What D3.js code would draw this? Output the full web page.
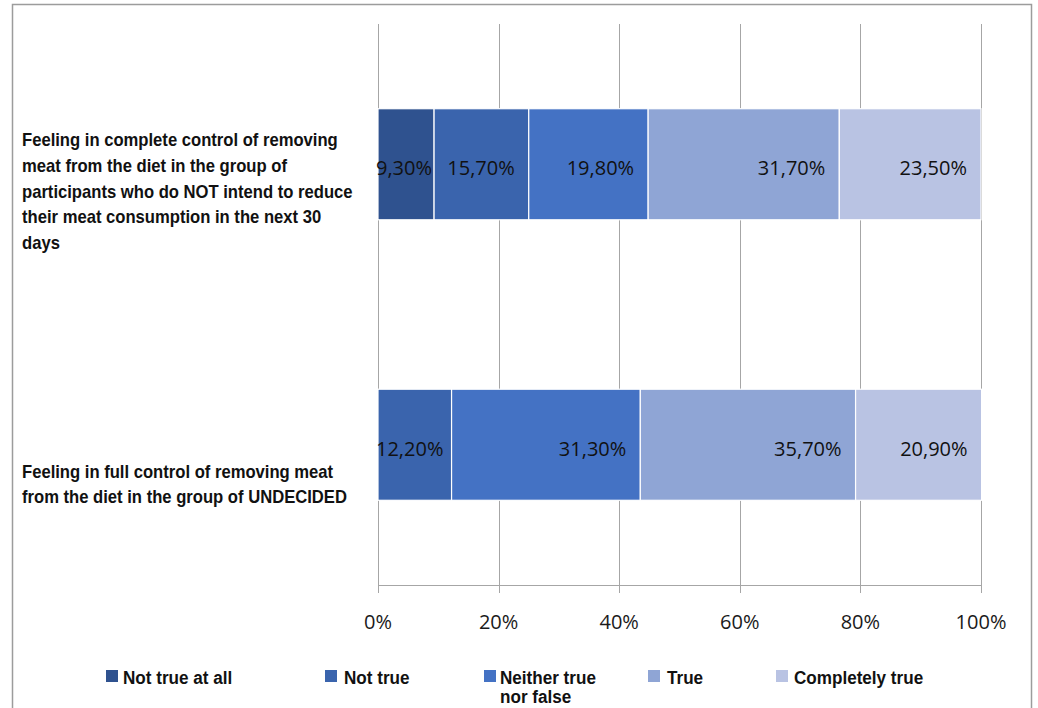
<!DOCTYPE html>
<html>
<head>
<meta charset="utf-8">
<script src="https://cdn.jsdelivr.net/npm/d3@7"></script>
<style>
  html, body { margin: 0; padding: 0; background: #fff; }
  svg { display: block; }
</style>
</head>
<body>
<svg id="chart" width="1038" height="708"></svg>
<script>
// ---- data ----
const categories = [
  "Feeling in complete control of removing meat from the diet in the group of participants who do NOT intend to reduce their meat consumption in the next 30 days",
  "Feeling in full control of removing meat from the diet in the group of UNDECIDED"
];
const categoryLines = [
  ["Feeling in complete control of removing",
   "meat from the diet in the group of",
   "participants who do NOT intend to reduce",
   "their meat consumption in the next 30",
   "days"],
  ["Feeling in full control of removing meat",
   "from the diet in the group of UNDECIDED"]
];
const seriesNames = ["Not true at all", "Not true", "Neither true nor false", "True", "Completely true"];
const notTrueAtAll = [9.3, 0];
const notTrue = [15.7, 12.2];
const neitherTrueNorFalse = [19.8, 31.3];
const trueValues = [31.7, 35.7];
const completelyTrue = [23.5, 20.9];
const tickValues = [0, 20, 40, 60, 80, 100];

const seriesColors = ["#2f528f", "#3a64ad", "#4472c4", "#8fa5d5", "#b9c3e3"];

// ---- table for the stack layout ----
const seriesArrays = [notTrueAtAll, notTrue, neitherTrueNorFalse, trueValues, completelyTrue];
const rows = categories.map((c, i) => {
  const r = { category: c };
  seriesNames.forEach((s, j) => { r[s] = seriesArrays[j][i]; });
  return r;
});

// ---- layout ----
const svg = d3.select("#chart");
const plot = { left: 378, right: 981, top: 24, bottom: 585 };

const x = d3.scaleLinear().domain([0, 100]).range([plot.left, plot.right]);
const y = d3.scaleBand().domain(categories).range([plot.top, plot.bottom])
  .paddingInner(0.604).paddingOuter(0.302);
const color = d3.scaleOrdinal().domain(seriesNames).range(seriesColors);

// outer frame
svg.append("rect")
  .attr("x", 12.5).attr("y", 4.5).attr("width", 1019).attr("height", 720)
  .attr("fill", "none").attr("stroke", "#9c9c9c").attr("stroke-width", 1.5);

// vertical gridlines (extend below the axis as tick marks)
svg.append("g")
  .selectAll("line").data(tickValues).join("line")
  .attr("x1", d => Math.round(x(d)) + 0.5).attr("x2", d => Math.round(x(d)) + 0.5)
  .attr("y1", plot.top).attr("y2", plot.bottom + 8)
  .attr("stroke", "#a6a6a6").attr("stroke-width", 1);

// horizontal axis line
svg.append("line")
  .attr("x1", plot.left).attr("x2", plot.right)
  .attr("y1", plot.bottom + 0.5).attr("y2", plot.bottom + 0.5)
  .attr("stroke", "#a6a6a6").attr("stroke-width", 1);

// tick labels
svg.append("g")
  .selectAll("text").data(tickValues).join("text")
  .attr("x", d => x(d)).attr("y", 629)
  .attr("text-anchor", "middle")
  .attr("font-family", "'Open Sans', 'Liberation Sans', sans-serif")
  .attr("font-size", 20)
  .attr("fill", "#1a1a1a")
  .text(d => d + "%");

// stacked bars
const stacked = d3.stack().keys(seriesNames)(rows);

const layers = svg.append("g").selectAll("g").data(stacked).join("g")
  .attr("fill", d => color(d.key));

layers.selectAll("rect").data(d => d.filter(p => p[1] - p[0] > 0)).join("rect")
  .attr("x", d => x(d[0]))
  .attr("y", d => y(d.data.category))
  .attr("width", d => x(d[1]) - x(d[0]))
  .attr("height", y.bandwidth())
  .attr("stroke", "#ffffff").attr("stroke-width", 1.2);

// value labels, placed toward the inside end of each segment
const labelFont = "'Open Sans', 'Liberation Sans', sans-serif";
const labels = svg.append("g");
stacked.forEach(layer => {
  layer.forEach(p => {
    const v = p[1] - p[0];
    if (v <= 0) return;
    const t = labels.append("text")
      .attr("font-family", labelFont)
      .attr("font-size", 20)
      .attr("fill", "#111")
      .attr("text-anchor", "end")
      .attr("y", y(p.data.category) + y.bandwidth() / 2 + 11)
      .text(d3.format(".2f")(v).replace(".", ",") + "%");
    const w = t.node().getComputedTextLength();
    const xr = Math.max(x(p[1]) - 14, x(p[0]) + w - 2);
    t.attr("x", xr);
  });
});

// condensed bold text helper
const boldFont = "'Liberation Sans', Arial, sans-serif";
function condensedText(parent, x0, y0, lines, lineGap, squeeze) {
  const t = parent.append("text")
    .attr("transform", `translate(${x0},${y0}) scale(${squeeze},1)`)
    .attr("font-family", boldFont)
    .attr("font-weight", "bold")
    .attr("font-size", 19)
    .attr("fill", "#111");
  lines.forEach((ln, k) => {
    t.append("tspan").attr("x", 0).attr("y", k * lineGap).text(ln);
  });
  return t;
}

// category labels
const labelShift = [-24, 27];
categoryLines.forEach((lines, i) => {
  const cy = y(categories[i]) + y.bandwidth() / 2 + labelShift[i];
  condensedText(svg, 22, cy + 6, lines, 25.7, 0.875);
});

// legend
const legendItems = [
  { name: seriesNames[0], sx: 106, tx: 123, lines: ["Not true at all"] },
  { name: seriesNames[1], sx: 325, tx: 344, lines: ["Not true"] },
  { name: seriesNames[2], sx: 484, tx: 500, lines: ["Neither true", "nor false"] },
  { name: seriesNames[3], sx: 648, tx: 667, lines: ["True"] },
  { name: seriesNames[4], sx: 776, tx: 794, lines: ["Completely true"] }
];
const legend = svg.append("g");
legendItems.forEach(item => {
  legend.append("rect")
    .attr("x", item.sx).attr("y", 670).attr("width", 12).attr("height", 12)
    .attr("fill", color(item.name));
  condensedText(legend, item.tx, 684, item.lines, 19, 0.9);
});
</script>
</body>
</html>
